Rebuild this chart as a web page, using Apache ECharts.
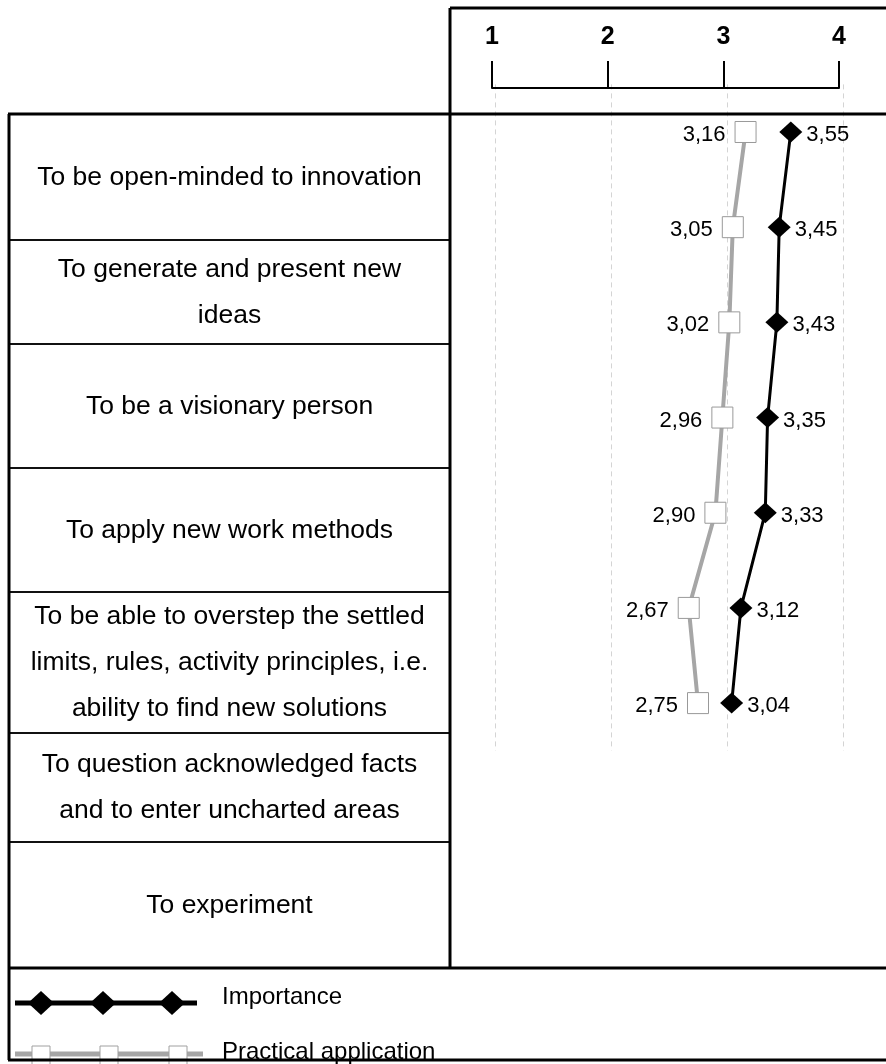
<!DOCTYPE html>
<html>
<head>
<meta charset="utf-8">
<title>Innovation competences: importance vs practical application</title>
<script src="https://cdn.jsdelivr.net/npm/echarts@6/dist/echarts.min.js"></script>
<style>
  html, body { margin: 0; padding: 0; background: #fff; }
  #chart { width: 886px; height: 1064px; }
</style>
</head>
<body>
<div id="chart"></div>
<script>
// Row labels of the competence table (left column)
const rowLabels = [
  'To be open-minded to innovation',
  'To generate and present new\nideas',
  'To be a visionary person',
  'To apply new work methods',
  'To be able to overstep the settled\nlimits, rules, activity principles, i.e.\nability to find new solutions',
  'To question acknowledged facts\nand to enter uncharted areas',
  'To experiment'
];

// Mean scores (scale 1–4)
const importance = [3.55, 3.45, 3.43, 3.35, 3.33, 3.12, 3.04];
const practical = [3.16, 3.05, 3.02, 2.96, 2.90, 2.67, 2.75];

// Scale tick labels
const scaleTicks = [1, 2, 3, 4];

// Series names
const seriesNames = ['Importance', 'Practical application'];

// ---- layout ----
const FONT = '"Liberation Sans", Arial, sans-serif';
const tableLeft = 9, tableRight = 450, pageRight = 886;
const headerTop = 8, headerBottom = 114;
const rowEdges = [114, 240, 344, 468, 592, 733, 842, 968];
const legendBottom = 1060;

const chart = echarts.init(document.getElementById('chart'), null, { renderer: 'canvas' });

const graphics = [];
// row texts
rowLabels.forEach((label, i) => {
  graphics.push({
    type: 'text',
    z: 10,
    x: (tableLeft + tableRight) / 2,
    y: (rowEdges[i] + rowEdges[i + 1]) / 2 + 1,
    scaleX: 1.06,
    style: {
      text: label,
      x: 0, y: 0,
      align: 'center',
      verticalAlign: 'middle',
      font: '25px ' + FONT,
      lineHeight: 46,
      fill: '#000'
    }
  });
});
// thin row separators
for (let i = 1; i < rowEdges.length - 1; i++) {
  graphics.push({
    type: 'line', z: 20,
    shape: { x1: tableLeft, y1: rowEdges[i], x2: tableRight, y2: rowEdges[i] },
    style: { stroke: '#111', lineWidth: 2 }
  });
}
// heavy frame lines
const heavy = [
  [tableRight, headerTop, pageRight, headerTop],
  [tableRight, headerTop, tableRight, rowEdges[rowEdges.length - 1]],
  [tableLeft - 1, headerBottom, pageRight, headerBottom],
  [tableLeft, headerBottom, tableLeft, legendBottom],
  [tableLeft - 1, rowEdges[rowEdges.length - 1], pageRight, rowEdges[rowEdges.length - 1]],
  [tableLeft - 1, legendBottom, pageRight, legendBottom]
];
heavy.forEach(([x1, y1, x2, y2]) => {
  graphics.push({
    type: 'line', z: 30,
    shape: { x1, y1, x2, y2 },
    style: { stroke: '#000', lineWidth: 3 }
  });
});

// legend: Importance
const legY1 = 1003, legY2 = 1054;
graphics.push({
  type: 'line', z: 10,
  shape: { x1: 15, y1: legY1, x2: 197, y2: legY1 },
  style: { stroke: '#000', lineWidth: 5 }
});
[41, 103, 172].forEach(cx => {
  graphics.push({
    type: 'polygon', z: 11,
    shape: { points: [[cx, legY1 - 12], [cx + 13, legY1], [cx, legY1 + 12], [cx - 13, legY1]] },
    style: { fill: '#000' }
  });
});
graphics.push({
  type: 'text', z: 10,
  style: {
    text: seriesNames[0], x: 222, y: 997,
    align: 'left', verticalAlign: 'middle',
    font: '24px ' + FONT, fill: '#000'
  }
});
// legend: Practical application
graphics.push({
  type: 'line', z: 10,
  shape: { x1: 15, y1: legY2, x2: 203, y2: legY2 },
  style: { stroke: '#a6a6a6', lineWidth: 5 }
});
[41, 109, 178].forEach(cx => {
  graphics.push({
    type: 'rect', z: 11,
    shape: { x: cx - 9, y: legY2 - 8, width: 18, height: 20 },
    style: { fill: '#fff', stroke: '#a0a0a0', lineWidth: 1 }
  });
});
graphics.push({
  type: 'text', z: 10,
  style: {
    text: seriesNames[1], x: 222, y: 1052,
    align: 'left', verticalAlign: 'middle',
    font: '24px ' + FONT, fill: '#000'
  }
});

const fmt = v => v.toFixed(2).replace('.', ',');

const option = {
  backgroundColor: '#fff',
  animation: false,
  graphic: { elements: graphics },
  grid: [
    // plot area
    { left: 495, right: pageRight - 843, top: 84.4, height: 666.3, containLabel: false },
    // scale ruler above the plot
    { left: 492, right: pageRight - 839, top: 87, height: 1, containLabel: false }
  ],
  xAxis: [
    {
      gridIndex: 0, type: 'value',
      min: scaleTicks[0], max: scaleTicks[scaleTicks.length - 1], interval: 1,
      axisLine: { show: false }, axisTick: { show: false }, axisLabel: { show: false },
      splitLine: { show: true, lineStyle: { color: '#d4d4d4', width: 1, type: [5, 4] } }
    },
    {
      gridIndex: 1, type: 'value', position: 'top',
      min: scaleTicks[0], max: scaleTicks[scaleTicks.length - 1], interval: 1,
      axisLine: { show: true, lineStyle: { color: '#000', width: 2 } },
      axisTick: { show: true, inside: false, length: 27, lineStyle: { color: '#000', width: 2 } },
      axisLabel: {
        show: true, margin: 37, color: '#000',
        fontFamily: FONT, fontSize: 25, fontWeight: 'bold',
        formatter: v => String(v)
      },
      splitLine: { show: false }
    }
  ],
  yAxis: [
    {
      gridIndex: 0, type: 'category', inverse: true,
      data: rowLabels, boundaryGap: true,
      axisLine: { show: false }, axisTick: { show: false }, axisLabel: { show: false },
      splitLine: { show: false }
    },
    {
      gridIndex: 1, type: 'value', show: false
    }
  ],
  series: [
    {
      name: seriesNames[1],
      type: 'line',
      xAxisIndex: 0, yAxisIndex: 0,
      data: practical.map((v, i) => [v, rowLabels[i]]),
      symbol: 'rect', symbolSize: [21, 21],
      showAllSymbol: true,
      lineStyle: { color: '#a6a6a6', width: 4 },
      itemStyle: { color: '#fff', borderColor: '#999', borderWidth: 1 },
      label: {
        show: true, position: 'left', distance: 9,
        offset: [0, 3],
        color: '#000', fontFamily: FONT, fontSize: 22,
        formatter: p => fmt(p.value[0])
      },
      z: 3
    },
    {
      name: seriesNames[0],
      type: 'line',
      xAxisIndex: 0, yAxisIndex: 0,
      data: importance.map((v, i) => [v, rowLabels[i]]),
      symbol: 'diamond', symbolSize: [23, 21],
      showAllSymbol: true,
      lineStyle: { color: '#000', width: 3 },
      itemStyle: { color: '#000' },
      label: {
        show: true, position: 'right', distance: 4,
        offset: [0, 3],
        color: '#000', fontFamily: FONT, fontSize: 22,
        formatter: p => fmt(p.value[0])
      },
      z: 4
    }
  ]
};

chart.setOption(option);
</script>
</body>
</html>
